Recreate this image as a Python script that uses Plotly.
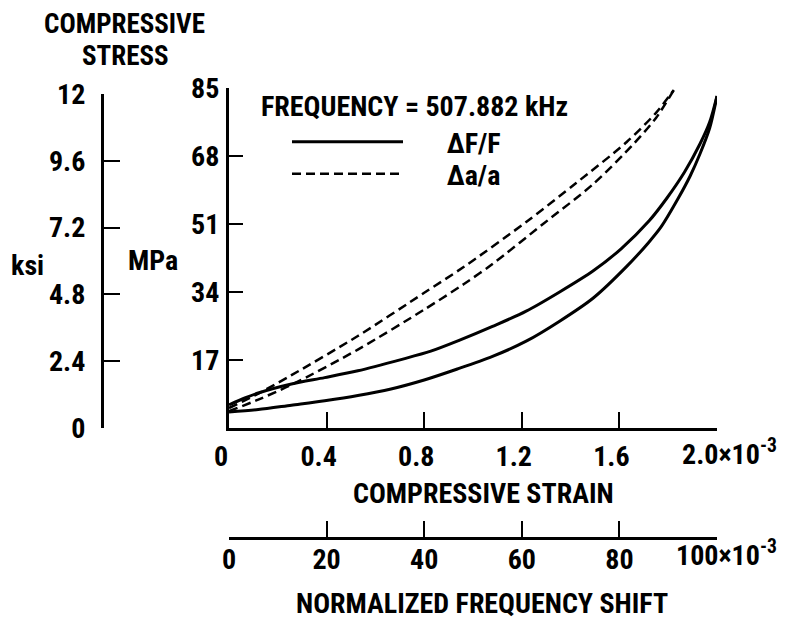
import plotly.graph_objects as go

W, H = 812, 620
OFF = 8  # page body margin offset of the figure div
def px(x): return (x - OFF) / W
def py(y): return 1 - (y - OFF) / H

FONT = "Roboto Condensed, Roboto, Liberation Sans, sans-serif"
FS = 28

# ---- data ----
# Δa/a curves: compressive strain (x10^-3) vs stress (MPa)
strain_up = [0, 0.12, 0.256, 0.528, 0.8, 0.963, 1.218, 1.424, 1.63, 1.75, 1.823]
stress_a_up = [5.0, 8.6, 13.2, 23.0, 33.8, 40.3, 51.5, 61.3, 71.5, 78.8, 84.5]
strain_lo = [0, 0.12, 0.256, 0.528, 0.8, 0.963, 1.08, 1.287, 1.493, 1.658, 1.75, 1.823]
stress_a_lo = [4.2, 7.1, 10.8, 19.6, 29.6, 36.0, 41.0, 51.0, 61.0, 71.0, 77.5, 84.5]

# ΔF/F curves: normalized frequency shift (x10^-3) vs stress (MPa)
shift_lo = [0, 6, 12.8, 19.6, 26.4, 33.2, 40, 46.8, 54, 60.9, 67.75, 74.65, 81.5, 86, 88.5, 92, 94.5, 96.5, 98.5, 100]
stress_f_lo = [4.0, 4.6, 5.7, 6.8, 8.1, 9.75, 12.0, 14.75, 17.9, 21.7, 26.7, 32.5, 40.4, 46.4, 50.2, 57.3, 63.0, 68.5, 75, 83]
shift_up = [0, 3.25, 6, 12.8, 19.6, 26.4, 35.25, 41.35, 47.15, 54, 60.9, 67.75, 74.65, 80.35, 86.1, 89.75, 93.35, 96.5, 98.5, 100]
stress_f_up = [5.8, 7.5, 8.75, 11.0, 12.6, 14.3, 17.1, 19.2, 21.9, 25.4, 29.2, 34.0, 39.3, 44.8, 51.8, 57.5, 64.0, 71.0, 76.5, 83]

strain_ticks = [0, 0.4, 0.8, 1.2, 1.6]
strain_ticktext = ["0", "0.4", "0.8", "1.2", "1.6"]
strain_end = [2.0]
shift_ticks = [0, 20, 40, 60, 80]
shift_ticktext = ["0", "20", "40", "60", "80"]
shift_end = [100]
mpa_ticks = [17, 34, 51, 68, 85]
ksi_ticks = [0, 2.4, 4.8, 7.2, 9.6, 12]
ksi_ticktext = ["0", "2.4", "4.8", "7.2", "9.6", "12"]

fig = go.Figure()
solid = dict(color="black", width=3, shape="spline", smoothing=0.8)
dashed = dict(color="black", width=2.5, dash="9px,5px", shape="spline", smoothing=0.8)

NB = "\u00a0" * 6
fig.add_trace(go.Scatter(x=shift_up, y=stress_f_up, mode="lines", line=solid,
                         xaxis="x3", yaxis="y", name=NB + "ΔF/F", legend="legend"))
fig.add_trace(go.Scatter(x=shift_lo, y=stress_f_lo, mode="lines", line=solid,
                         xaxis="x3", yaxis="y", showlegend=False))
fig.add_trace(go.Scatter(x=strain_up, y=stress_a_up, mode="lines", line=dashed,
                         xaxis="x", yaxis="y", name=NB + "Δa/a", legend="legend2"))
fig.add_trace(go.Scatter(x=strain_lo, y=stress_a_lo, mode="lines", line=dashed,
                         xaxis="x", yaxis="y", showlegend=False))
# anchors for the auxiliary axes
fig.add_trace(go.Scatter(x=[], y=[], xaxis="x2", yaxis="y2", showlegend=False))
fig.add_trace(go.Scatter(x=[], y=[], xaxis="x3", yaxis="y3", showlegend=False))

tickfont = dict(family=FONT, size=FS, color="black", weight="bold")
axcommon = dict(showgrid=False, zeroline=False, showline=True, linewidth=3, linecolor="black",
                ticks="inside", tickwidth=2, tickcolor="black", tickfont=tickfont,
                automargin=False)

fig.update_layout(
    width=W, height=H, margin=dict(l=0, r=0, t=0, b=0, pad=0, autoexpand=False),
    paper_bgcolor="white", plot_bgcolor="rgba(0,0,0,0)",
    xaxis=dict(domain=[px(229), px(717)], range=[0, 2.0], anchor="y",
               tickmode="array", tickvals=strain_ticks, ticktext=strain_ticktext,
               ticklen=16, ticklabelshift=-8, ticklabelstandoff=1,
               minor=dict(tickmode="array", tickvals=strain_end, ticks="inside", ticklen=16,
                          tickwidth=2, tickcolor="black", showgrid=False),
               **axcommon),
    yaxis=dict(domain=[py(428), py(88)], range=[0, 85], anchor="x",
               tickmode="array", tickvals=mpa_ticks, ticklen=14, ticklabelstandoff=1, **axcommon),
    xaxis2=dict(domain=[px(104), px(110)], anchor="y2", visible=False),
    yaxis2=dict(domain=[py(428), py(94)], range=[0, 12], anchor="x2",
                tickmode="array", tickvals=ksi_ticks, ticktext=ksi_ticktext,
                ticklen=16, ticklabelstandoff=10, **axcommon),
    xaxis3=dict(domain=[px(229), px(717)], range=[0, 100], anchor="y3",
                tickmode="array", tickvals=shift_ticks, ticktext=shift_ticktext,
                ticklen=16, ticklabelstandoff=-5,
                minor=dict(tickmode="array", tickvals=shift_end, ticks="inside", ticklen=16,
                           tickwidth=2, tickcolor="black", showgrid=False),
                **axcommon),
    yaxis3=dict(domain=[py(537), py(530)], anchor="x3", visible=False, range=[0, 1]),
    legend=dict(x=px(287), y=py(142), xanchor="left", yanchor="middle",
                itemwidth=111, font=tickfont, bgcolor="rgba(0,0,0,0)", borderwidth=0),
    legend2=dict(x=px(287), y=py(174), xanchor="left", yanchor="middle",
                 itemwidth=111, font=tickfont, bgcolor="rgba(0,0,0,0)", borderwidth=0),
    showlegend=True,
)

def ann(text, x, y, xanchor="center", yanchor="middle", size=FS, xref="paper", xshift=0):
    fig.add_annotation(text=text, x=x, y=y, xref=xref, yref="paper", showarrow=False,
                       xanchor=xanchor, yanchor=yanchor, xshift=xshift, borderpad=0,
                       font=dict(family=FONT, size=size, color="black", weight="bold"))

ann("COMPRESSIVE", px(125), py(24), size=27)
ann("STRESS", px(126), py(56), size=27)
ann("ksi", px(27), py(265))
ann("MPa", px(153), py(260))
ann("COMPRESSIVE STRAIN", px(483), py(493))
ann("NORMALIZED FREQUENCY SHIFT", px(482), py(603))
ann("FREQUENCY = 507.882 kHz", px(260), py(106), xanchor="left")
ann("2.0×10<sup>-3</sup>", 2.0, py(452), xanchor="left", xref="x", xshift=-36)
ann("100×10<sup>-3</sup>", 100, py(553), xanchor="left", xref="x3", xshift=-42)

fig.write_html("out.html")
